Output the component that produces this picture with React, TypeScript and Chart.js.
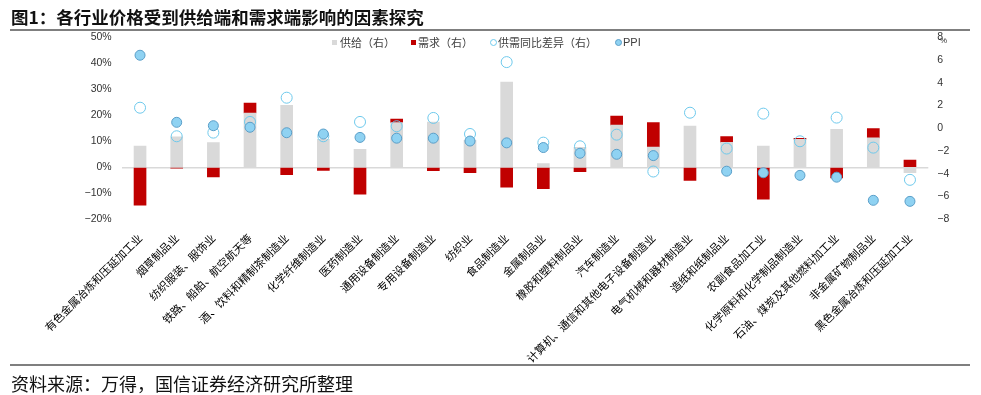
import React, { useEffect, useRef } from 'react';
import { Chart, registerables } from 'chart.js';

Chart.register(...registerables);

const categories = [
  '有色金属冶炼和压延加工业',
  '烟草制品业',
  '纺织服装、服饰业',
  '铁路、船舶、航空航天等',
  '酒、饮料和精制茶制造业',
  '化学纤维制造业',
  '医药制造业',
  '通用设备制造业',
  '专用设备制造业',
  '纺织业',
  '食品制造业',
  '金属制品业',
  '橡胶和塑料制品业',
  '汽车制造业',
  '计算机、通信和其他电子设备制造业',
  '电气机械和器材制造业',
  '造纸和纸制品业',
  '农副食品加工业',
  '化学原料和化学制品制造业',
  '石油、煤炭及其他燃料加工业',
  '非金属矿物制品业',
  '黑色金属冶炼和压延加工业',
];

const supply = [8.2, 11.7, 9.5, 20.9, 23.8, 10.8, 6.9, 17.2, 17.4, 10.4, 32.8, 1.4, 7.7, 16.2, 7.8, 15.9, 9.6, 8.2, 10.8, 14.6, 11.3, -2.1];
const demand = [-14.6, -0.3, -3.7, 3.8, -2.8, -1.2, -10.3, 1.3, -1.3, -2.1, -7.6, -8.2, -1.7, 3.5, 9.4, -5.0, 2.2, -12.3, 0.3, -4.1, 3.6, 2.8];
const gap = [1.81, -0.7, -0.38, 0.56, 2.69, -0.7, 0.56, 0.18, 0.91, -0.5, 5.82, -1.26, -1.58, -0.56, -3.8, 1.37, -1.78, 1.29, -1.14, 0.94, -1.7, -4.53];
const ppi: (number | null)[] = [43.1, 17.3, 16.0, 15.4, 13.3, 12.8, 11.5, 11.2, 11.2, 10.1, 9.4, 7.6, 5.4, 5.0, 4.5, null, -1.5, -2.1, -3.1, -3.8, -12.7, -13.1];

const leftMin = -20;
const leftMax = 50;
const leftStep = 10;
const rightMin = -8;
const rightMax = 8;
const rightStep = 2;

const legendItems = ['供给（右）', '需求（右）', '供需同比差异（右）', 'PPI'];

const NUM_FONT = '"Liberation Sans", Arial, sans-serif';
const CJK_FONT = '"Noto Sans CJK SC", "Noto Sans", sans-serif';

const fmt = (v: number) => (v < 0 ? '\u2212' + Math.abs(v) : String(v));

export default function App() {
  const ref = useRef<HTMLCanvasElement | null>(null);

  useEffect(() => {
    if (!ref.current) return;
    const chart = new Chart(ref.current, {
      type: 'bar',
      data: {
        labels: categories,
        datasets: [
          {
            type: 'line',
            label: legendItems[3],
            data: ppi,
            yAxisID: 'y',
            showLine: false,
            pointRadius: 5,
            pointBackgroundColor: '#8fd2f2',
            pointBorderColor: '#5a9ec8',
            pointBorderWidth: 1,
            order: 0,
          } as any,
          {
            type: 'line',
            label: legendItems[2],
            data: gap,
            yAxisID: 'y1',
            showLine: false,
            pointRadius: 5.5,
            pointBackgroundColor: 'rgba(255,255,255,0)',
            pointBorderColor: '#6ec9ec',
            pointBorderWidth: 1,
            order: 1,
          } as any,
          {
            type: 'bar',
            label: legendItems[0],
            data: supply,
            yAxisID: 'y',
            backgroundColor: '#d9d9d9',
            barThickness: 12,
            order: 2,
          },
          {
            type: 'bar',
            label: legendItems[1],
            data: demand,
            yAxisID: 'y',
            backgroundColor: '#c00000',
            barThickness: 12,
            order: 3,
          },
        ],
      },
      options: {
        animation: false,
        responsive: false,
        devicePixelRatio: 1,
        layout: { padding: { top: 37.3, left: 0, right: 0, bottom: 0 } },
        plugins: {
          legend: { display: false },
          tooltip: { enabled: false },
          title: { display: false },
        },
        scales: {
          x: {
            stacked: true,
            grid: { display: false },
            border: { display: false },
            ticks: {
              autoSkip: false,
              maxRotation: 45,
              minRotation: 45,
              color: '#000',
              font: { size: 11, family: CJK_FONT },
              padding: 4,
            },
            afterFit: (s: any) => {
              s.height = 175.7;
            },
          },
          y: {
            stacked: true,
            position: 'left',
            min: leftMin,
            max: leftMax,
            ticks: {
              stepSize: leftStep,
              color: '#333',
              font: { size: 10.5, family: NUM_FONT },
              padding: 10,
              callback: (v: any) => fmt(Number(v)) + '%',
            },
            grid: {
              drawTicks: false,
              color: (ctx: any) => (ctx.tick && ctx.tick.value === 0 ? '#d9d9d9' : 'rgba(0,0,0,0)'),
              lineWidth: 1.5,
            },
            border: { display: false },
            afterFit: (s: any) => {
              s.width = 121.7;
            },
          },
          y1: {
            position: 'right',
            min: rightMin,
            max: rightMax,
            ticks: {
              stepSize: rightStep,
              color: '#333',
              font: { size: 10.5, family: NUM_FONT },
              padding: 9,
              callback: (v: any) => fmt(Number(v)),
            },
            grid: { display: false, drawTicks: false },
            border: { display: false },
            afterFit: (s: any) => {
              s.width = 52.7;
            },
          },
        },
      } as any,
    });
    return () => chart.destroy();
  }, []);

  const legendText: React.CSSProperties = {
    position: 'absolute',
    top: 36,
    fontSize: 11,
    lineHeight: '12px',
    fontFamily: CJK_FONT,
    color: '#404040',
    whiteSpace: 'nowrap',
  };

  return (
    <div style={{ position: 'fixed', left: 0, top: 0, width: 981, height: 395, background: '#fff', overflow: 'hidden' }}>
      <canvas ref={ref} width={981} height={395} style={{ position: 'absolute', left: 0, top: 0 }} />
      <div
        style={{
          position: 'absolute',
          left: 11,
          top: 6.5,
          fontSize: 17.5,
          lineHeight: '20px',
          fontWeight: 700,
          fontFamily: CJK_FONT,
          color: '#111',
          whiteSpace: 'nowrap',
        }}
      >
        图1：各行业价格受到供给端和需求端影响的因素探究
      </div>
      <div style={{ position: 'absolute', left: 10, top: 29, width: 960, height: 2, background: '#7f7f7f' }} />
      <div style={{ position: 'absolute', left: 10, top: 364, width: 960, height: 2, background: '#7f7f7f' }} />
      <div
        style={{
          position: 'absolute',
          left: 11,
          top: 373.3,
          fontSize: 18,
          lineHeight: '20px',
          fontFamily: CJK_FONT,
          color: '#111',
          whiteSpace: 'nowrap',
        }}
      >
        资料来源：万得，国信证券经济研究所整理
      </div>
      <div style={{ position: 'absolute', left: 332, top: 40, width: 5, height: 5, background: '#d9d9d9' }} />
      <div style={{ ...legendText, left: 340 }}>{legendItems[0]}</div>
      <div style={{ position: 'absolute', left: 411, top: 40, width: 5, height: 5, background: '#c00000' }} />
      <div style={{ ...legendText, left: 418 }}>{legendItems[1]}</div>
      <div
        style={{
          position: 'absolute',
          left: 490,
          top: 39,
          width: 5,
          height: 5,
          borderRadius: '50%',
          border: '1px solid #6ec9ec',
          background: '#fff',
        }}
      />
      <div style={{ ...legendText, left: 498 }}>{legendItems[2]}</div>
      <div
        style={{
          position: 'absolute',
          left: 615,
          top: 39,
          width: 5,
          height: 5,
          borderRadius: '50%',
          border: '1px solid #5a9ec8',
          background: '#8fd2f2',
        }}
      />
      <div style={{ ...legendText, left: 623, fontFamily: NUM_FONT }}>{legendItems[3]}</div>
      <div
        style={{
          position: 'absolute',
          left: 940,
          top: 37,
          fontSize: 8,
          lineHeight: '8px',
          fontFamily: NUM_FONT,
          color: '#333',
        }}
      >
        %
      </div>
    </div>
  );
}
